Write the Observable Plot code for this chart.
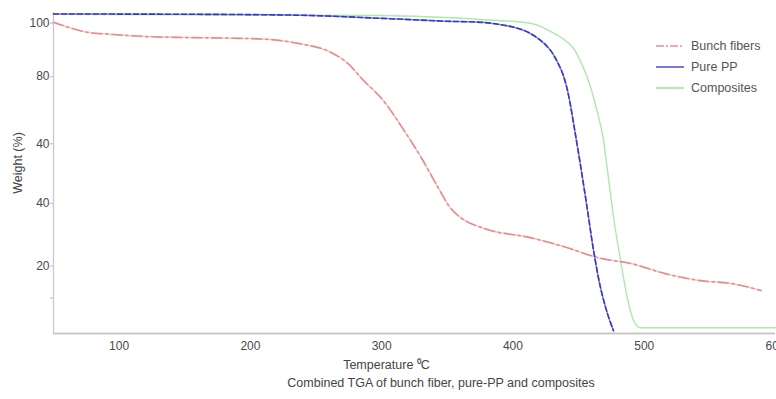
<!DOCTYPE html>
<html>
<head>
<meta charset="utf-8">
<script src="https://cdn.jsdelivr.net/npm/d3@7"></script>
<script src="https://cdn.jsdelivr.net/npm/@observablehq/plot@0.6"></script>
<style>
  body { margin: 0; background: #fff; font-family: "Liberation Sans", Arial, sans-serif; }
  #wrap { position: relative; width: 776px; height: 399px; overflow: hidden; background: #fff; }
  #legend { position: absolute; left: 656px; top: 35px; font-size: 12.5px; color: #555; }
  .row { display: flex; align-items: center; height: 21px; white-space: nowrap; }
  .row svg { margin-right: 7px; }
  #caption { position: absolute; left: 0; top: 376px; width: 776px; box-sizing: border-box;
             padding-left: 106px; text-align: center; font-size: 12.5px; color: #444; }
</style>
</head>
<body>
<div id="wrap">
  <div id="chart"></div>
  <div id="legend"></div>
  <div id="caption"></div>
</div>
<script>
// ---- data ----
const seriesNames = ["Bunch fibers", "Pure PP", "Composites"];

const bunchT = [50, 61, 76, 93, 116, 150, 185, 210, 236, 261, 274, 286, 301, 317, 330, 343, 352, 360, 378, 413, 436, 467, 490, 516, 543, 566, 589];
const bunchW = [100.3, 98.7, 97.0, 96.4, 95.7, 95.3, 95.1, 94.8, 93.4, 90.5, 86.9, 81.3, 74.8, 64.9, 56.1, 46.2, 39.7, 36.4, 32.8, 29.8, 27.2, 23.0, 21.3, 18.0, 15.7, 14.8, 12.5];

const ppT = [50, 238, 299, 345, 383, 408, 421, 428.6, 434, 437.8, 440.8, 443.1, 445.4, 447.7, 451.5, 456.8, 461.4, 466.7, 472, 476.6];
const ppW = [103, 102.6, 101.6, 100.7, 100, 97.7, 94.4, 91.1, 87.2, 83.6, 79.3, 74.8, 69.2, 63.3, 53.4, 38.7, 25.6, 13.4, 4.9, -0.7];

const compT = [50, 300, 375, 413, 434, 440, 446, 452, 457, 464, 469, 472, 477, 482, 487, 492, 497, 520, 560, 600];
const compW = [102.9, 102.5, 101.2, 100, 96, 94.3, 91.8, 87.0, 81.8, 71.5, 61.6, 51.8, 35.4, 22.3, 10.2, 2.6, 0.3, 0.3, 0.3, 0.3];

const xTickValues = [100, 200, 300, 400, 500, 600];
const yTickValues = [100, 82.5, 60.5, 41, 20.5, 10];
const yTickLabels = ["100", "80", "40", "40", "20", ""];

const xTitle = "Temperature \u2070C";
const yTitle = "Weight (%)";
const captionText = "Combined TGA of bunch fiber, pure-PP and composites";

// ---- build ----
const rows = (T, W) => T.map((t, i) => ({ t, w: W[i] }));
const bunch = rows(bunchT, bunchW);
const pp = rows(ppT, ppW);
const comp = rows(compT, compW);
const yLabelMap = new Map(yTickValues.map((v, i) => [v, yTickLabels[i]]));

const yMin = -1.6, yMax = 103.5;

const chart = Plot.plot({
  width: 776,
  height: 376,
  marginLeft: 53,
  marginRight: 1,
  marginTop: 12,
  marginBottom: 43,
  x: { domain: [50, 600] },
  y: { domain: [yMin, yMax] },
  style: { fontFamily: "Liberation Sans, Arial, sans-serif", fontSize: "12px", color: "#4a4a4a", background: "#fff", overflow: "visible" },
  marks: [
    Plot.ruleY([yMin], { stroke: "#c9c9c9", strokeWidth: 2 }),
    Plot.ruleX([50], { stroke: "#c9c9c9", strokeWidth: 1.3 }),
    Plot.axisY({ ticks: yTickValues, tickFormat: d => yLabelMap.get(d), tickSize: 3, tickPadding: 1, stroke: "#bbb", label: null }),
    Plot.axisX({ ticks: xTickValues, tickSize: 0, tickPadding: 8, label: null }),
    // composites
    Plot.line(comp, { x: "t", y: "w", stroke: "#aee8ae", strokeWidth: 1.4, curve: "monotone-x" }),
    // bunch fibers
    Plot.line(bunch, { x: "t", y: "w", stroke: "#f8caca", strokeWidth: 1.5, curve: "monotone-x" }),
    Plot.line(bunch, { x: "t", y: "w", stroke: "#ec8a8a", strokeWidth: 1.6, strokeDasharray: "10,4,2,4", curve: "monotone-x" }),
    // pure PP
    Plot.line(pp, { x: "t", y: "w", stroke: "#9090f0", strokeWidth: 1.5, curve: "catmull-rom" }),
    Plot.line(pp, { x: "t", y: "w", stroke: "#3838c6", strokeWidth: 1.6, strokeDasharray: "5,3", curve: "catmull-rom" }),
    // titles
    Plot.text([xTitle], { text: d => d, frameAnchor: "bottom", lineAnchor: "middle", dx: -28, dy: 31, fontSize: 12.5, fill: "#444" }),
    Plot.text([yTitle], { text: d => d, frameAnchor: "left", rotate: -90, lineAnchor: "middle", textAnchor: "middle", dx: -36, dy: -10, fontSize: 12.5, fill: "#444" })
  ]
});
document.getElementById("chart").appendChild(chart);

// ---- legend ----
const legendColors = ["#ec8f8f", "#4a4ad8", "#9ee29e"];
const legendDash = ["8,2,2,2", "", ""];
const legend = document.getElementById("legend");
seriesNames.forEach((name, i) => {
  const row = document.createElement("div");
  row.className = "row";
  row.innerHTML = `<svg width="28" height="6"><line x1="0" y1="3" x2="28" y2="3" stroke="${legendColors[i]}" stroke-width="1.5" ${legendDash[i] ? `stroke-dasharray="${legendDash[i]}"` : ""}/></svg><span>${name}</span>`;
  legend.appendChild(row);
});

document.getElementById("caption").textContent = captionText;
</script>
</body>
</html>
